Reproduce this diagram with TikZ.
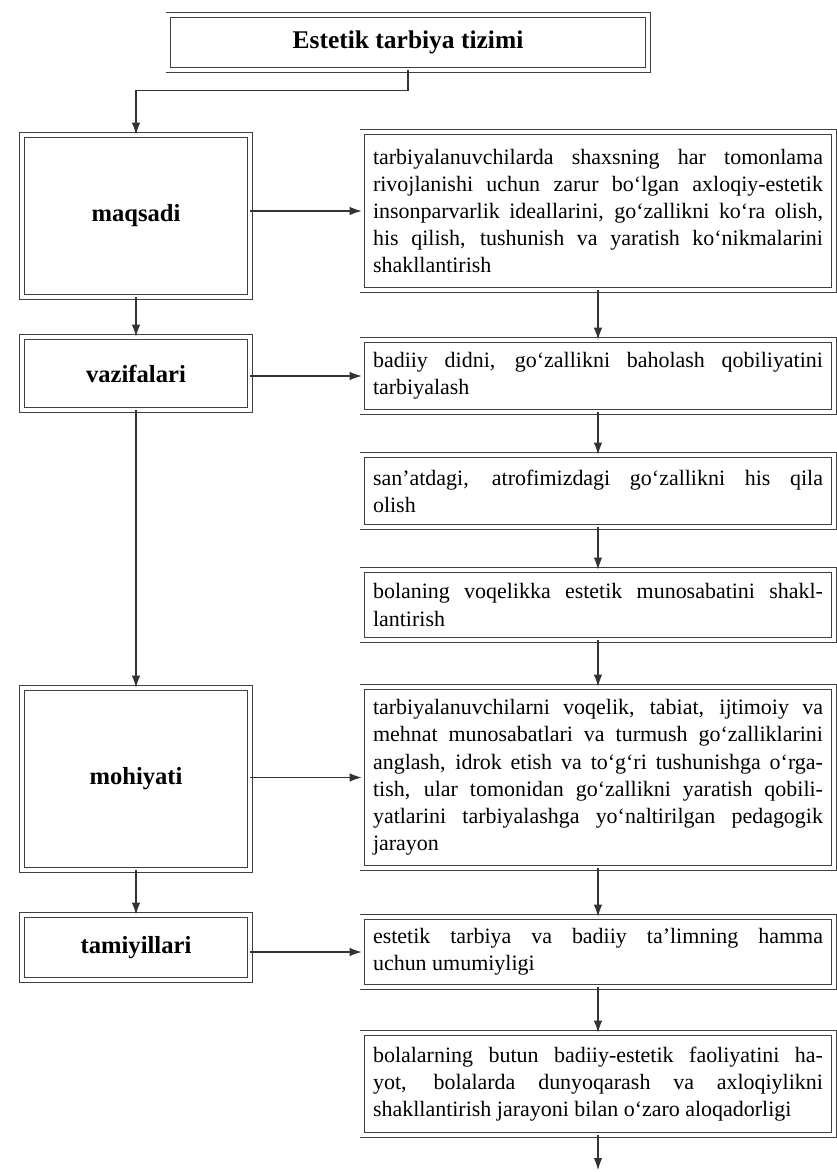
\documentclass[tikz,border=0pt]{standalone}
\usepackage{fontspec}
\setmainfont{Liberation Serif}
\usetikzlibrary{arrows.meta}
\tolerance=10000
\hyphenpenalty=10000
\exhyphenpenalty=10000
\tikzset{
  dbox/.style={draw=black!75, double, double distance=0.07cm, line width=0.45pt, inner sep=0pt},
  headbox/.style={dbox, minimum width=9.6cm, minimum height=1.1cm, font=\bfseries\fontsize{14.5}{17}\selectfont},
  leftbox/.style={dbox, minimum width=4.56cm, font=\bfseries\fontsize{14}{17}\selectfont},
  rightbox/.style={dbox, inner xsep=0.22cm, text width=9.0cm, align=justify, font=\fontsize{12.5}{15.5}\selectfont},
  arr/.style={draw=black!80, line width=0.6pt, -{Latex[length=2.4mm,width=1.7mm]}}
}
\begin{document}
\begin{tikzpicture}[x=0.02cm,y=-0.02cm]
  \useasboundingbox (0,0) rectangle (837,1172);
  %% title
  \node[headbox] (title) at (408,42.5) {Estetik tarbiya tizimi};
  %% left column
  \node[leftbox, minimum height=3.24cm] (maqsadi) at (136,216) {maqsadi};
  \node[leftbox, minimum height=1.46cm] (vazifalari) at (136,373.5) {vazifalari};
  \node[leftbox, minimum height=3.64cm] (mohiyati) at (136,779) {mohiyati};
  \node[leftbox, minimum height=1.3cm] (tamiyillari) at (136,947.5) {tamiyillari};
  %% right column
  \node[rightbox, minimum height=3.16cm] (r1) at (598,211) {tarbiyalanuvchilarda shaxsning har tomonlama\linebreak
    rivojlanishi uchun zarur bo‘lgan axloqiy-estetik\linebreak
    insonparvarlik ideallarini, go‘zallikni ko‘ra olish,\linebreak
    his qilish, tushunish va yaratish ko‘nikmalarini\linebreak
    shakllantirish};
  \node[rightbox, minimum height=1.44cm] (r2) at (598,376) {badiiy didni, go‘zallikni baholash qobiliyatini\linebreak
    tarbiyalash};
  \node[rightbox, minimum height=1.44cm] (r3) at (598,491) {san’atdagi, atrofimizdagi go‘zallikni his qila\linebreak
    olish};
  \node[rightbox, minimum height=1.4cm] (r4) at (598,605) {bolaning voqelikka estetik munosabatini shakl-\linebreak
    lantirish};
  \node[rightbox, minimum height=3.62cm] (r5) at (598,777.5) {tarbiyalanuvchilarni voqelik, tabiat, ijtimoiy va\linebreak
    mehnat munosabatlari va turmush go‘zalliklarini\linebreak
    anglash, idrok etish va to‘g‘ri tushunishga o‘rga-\linebreak
    tish, ular tomonidan go‘zallikni yaratish qobili-\linebreak
    yatlarini tarbiyalashga yo‘naltirilgan pedagogik\linebreak
    jarayon};
  \node[rightbox, minimum height=1.4cm] (r6) at (598,952) {estetik tarbiya va badiiy ta’limning hamma\linebreak
    uchun umumiyligi};
  \node[rightbox, minimum height=2.04cm] (r7) at (598,1084) {bolalarning butun badiiy-estetik faoliyatini ha-\linebreak
    yot, bolalarda dunyoqarash va axloqiylikni\linebreak
    shakllantirish jarayoni bilan o‘zaro aloqadorligi};
  \coordinate (tail) at (598,1170);
  %% connectors
  \draw[arr] (title.south) -- ++(0,20) -| (maqsadi.north);
  \draw[arr] (maqsadi.south) -- (vazifalari.north);
  \draw[arr] (vazifalari.south) -- (mohiyati.north);
  \draw[arr] (mohiyati.south) -- (tamiyillari.north);
  \foreach \a/\b in {maqsadi/r1,vazifalari/r2,mohiyati/r5,tamiyillari/r6}
    \draw[arr] (\a.east |- \b.west) -- (\b.west);
  \foreach \a/\b in {r1/r2,r2/r3,r3/r4,r4/r5,r5/r6,r6/r7}
    \draw[arr] (\a.south) -- (\b.north);
  \draw[arr] (r7.south) -- (tail);
\end{tikzpicture}
\end{document}
